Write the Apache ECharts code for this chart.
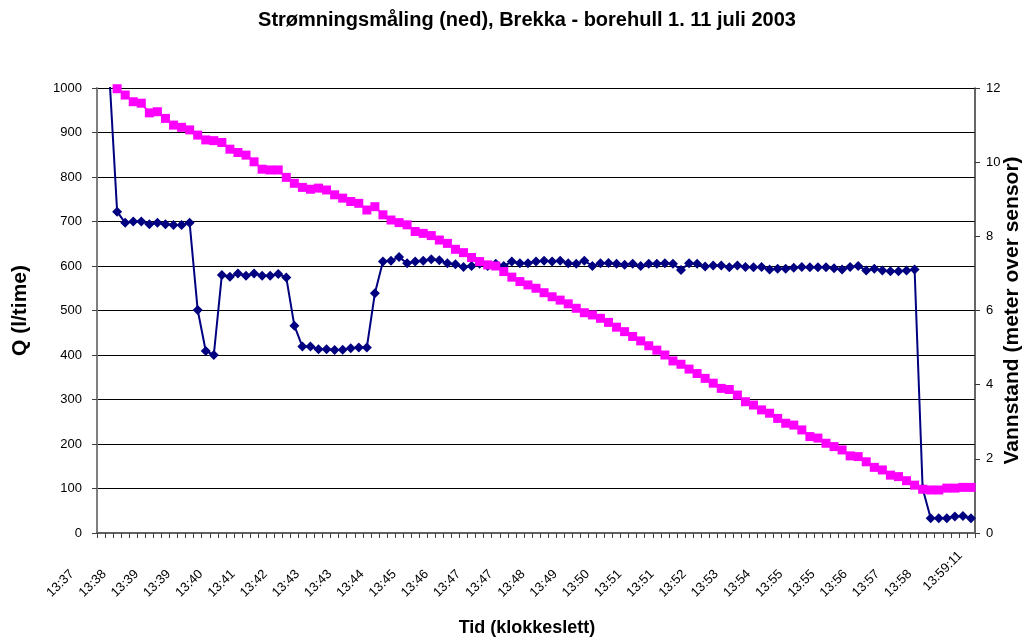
<!DOCTYPE html>
<html>
<head>
<meta charset="utf-8">
<title>Strømningsmåling (ned), Brekka - borehull 1</title>
<script src="https://cdn.jsdelivr.net/npm/echarts@6.0.0/dist/echarts.min.js"></script>
<style>
  html, body { margin: 0; padding: 0; background: #ffffff; }
  #chart { width: 1031px; height: 641px; }
</style>
</head>
<body>
<div id="chart"></div>
<script>
// Sampling times (every 12 s), 11 July 2003
const times = [
  '13:37:35','13:37:47','13:37:59','13:38:11','13:38:23','13:38:35','13:38:47','13:38:59',
  '13:39:11','13:39:23','13:39:35','13:39:47','13:39:59','13:40:11','13:40:23','13:40:35',
  '13:40:47','13:40:59','13:41:11','13:41:23','13:41:35','13:41:47','13:41:59','13:42:11',
  '13:42:23','13:42:35','13:42:47','13:42:59','13:43:11','13:43:23','13:43:35','13:43:47',
  '13:43:59','13:44:11','13:44:23','13:44:35','13:44:47','13:44:59','13:45:11','13:45:23',
  '13:45:35','13:45:47','13:45:59','13:46:11','13:46:23','13:46:35','13:46:47','13:46:59',
  '13:47:11','13:47:23','13:47:35','13:47:47','13:47:59','13:48:11','13:48:23','13:48:35',
  '13:48:47','13:48:59','13:49:11','13:49:23','13:49:35','13:49:47','13:49:59','13:50:11',
  '13:50:23','13:50:35','13:50:47','13:50:59','13:51:11','13:51:23','13:51:35','13:51:47',
  '13:51:59','13:52:11','13:52:23','13:52:35','13:52:47','13:52:59','13:53:11','13:53:23',
  '13:53:35','13:53:47','13:53:59','13:54:11','13:54:23','13:54:35','13:54:47','13:54:59',
  '13:55:11','13:55:23','13:55:35','13:55:47','13:55:59','13:56:11','13:56:23','13:56:35',
  '13:56:47','13:56:59','13:57:11','13:57:23','13:57:35','13:57:47','13:57:59','13:58:11',
  '13:58:23','13:58:35','13:58:47','13:58:59','13:59:11'
];

// Flow Q (l/time), left axis
const flow = [
  1060, 1040, 722, 697, 700, 700, 694, 697, 694, 692, 692, 697,
  501, 409, 400, 580, 576, 583, 578, 583, 578, 578, 582, 574,
  466, 419, 419, 413, 413, 411, 412, 415, 417, 417, 539, 610,
  612, 620, 606, 610, 612, 615, 613, 606, 604, 598, 600, 605,
  600, 605, 600, 610, 606, 606, 610, 612, 610, 612, 606, 605,
  612, 600, 606, 607, 605, 603, 605, 600, 605, 605, 606, 605,
  591, 606, 605, 599, 601, 601, 597, 601, 598, 597, 598, 592,
  594, 594, 596, 598, 597, 597, 597, 595, 592, 598, 600, 590,
  594, 590, 588, 588, 590, 592, 100, 33, 33, 33, 37, 38, 33
];

// Water level above sensor (m), right axis
const level = [
  12.40, 12.10, 11.98, 11.81, 11.63, 11.59, 11.33, 11.36, 11.18, 11.00, 10.94, 10.87,
  10.73, 10.60, 10.58, 10.53, 10.35, 10.26, 10.19, 10.01, 9.81, 9.79, 9.79, 9.59,
  9.43, 9.32, 9.27, 9.30, 9.25, 9.12, 9.03, 8.94, 8.89, 8.71, 8.80, 8.58,
  8.44, 8.37, 8.31, 8.13, 8.08, 8.02, 7.90, 7.81, 7.65, 7.56, 7.43, 7.32,
  7.23, 7.20, 7.05, 6.90, 6.78, 6.69, 6.60, 6.48, 6.37, 6.28, 6.18, 6.06,
  5.94, 5.88, 5.79, 5.68, 5.55, 5.43, 5.30, 5.18, 5.05, 4.93, 4.80, 4.64,
  4.55, 4.42, 4.30, 4.17, 4.04, 3.90, 3.87, 3.72, 3.54, 3.45, 3.32, 3.23,
  3.09, 2.96, 2.91, 2.78, 2.60, 2.56, 2.42, 2.33, 2.24, 2.08, 2.06, 1.92,
  1.77, 1.70, 1.56, 1.52, 1.41, 1.29, 1.18, 1.16, 1.16, 1.21, 1.21, 1.23, 1.23
];

const FONT = '"Liberation Sans", Arial, Helvetica, sans-serif';
const lastIndex = times.length - 1;

const chart = echarts.init(document.getElementById('chart'), null, { renderer: 'canvas' });

chart.setOption({
  animation: false,
  backgroundColor: '#ffffff',
  title: {
    text: 'Strømningsmåling (ned), Brekka - borehull 1. 11 juli 2003',
    left: 527,
    top: 10,
    padding: 0,
    textAlign: 'center',
    textStyle: { fontFamily: FONT, fontSize: 20, fontWeight: 'bold', color: '#000' }
  },
  grid: { left: 97, right: 56, top: 88, bottom: 108, containLabel: false, outerBoundsMode: 'none' },
  xAxis: {
    type: 'category',
    data: times,
    boundaryGap: true,
    name: 'Tid (klokkeslett)',
    nameLocation: 'middle',
    nameGap: 86,
    nameMoveOverlap: false,
    nameTextStyle: { fontFamily: FONT, fontSize: 18, fontWeight: 'bold', color: '#000', padding: [0, 18, 0, 0] },
    axisLine: { show: true, lineStyle: { color: '#606060', width: 2 } },
    axisTick: { show: true, interval: 0, inside: false, length: 5, lineStyle: { color: '#404040', width: 1 } },
    axisLabel: {
      interval: 3,
      rotate: 45,
      margin: 10,
      fontFamily: FONT,
      fontSize: 13,
      color: '#000',
      formatter: function (value, index) {
        return index === lastIndex ? '{full|' + value + '}' : '{short|' + value.slice(0, 5) + '}';
      },
      rich: {
        full: { fontFamily: FONT, fontSize: 13, color: '#000', padding: [0, 15, 0, 0] },
        short: { fontFamily: FONT, fontSize: 13, color: '#000', padding: [0, 41, 0, 0] }
      }
    },
    splitLine: { show: false }
  },
  yAxis: [
    {
      type: 'value',
      min: 0,
      max: 1000,
      interval: 100,
      position: 'left',
      name: 'Q (l/time)',
      nameLocation: 'middle',
      nameGap: 66,
      nameMoveOverlap: false,
      nameTextStyle: { fontFamily: FONT, fontSize: 21, fontWeight: 'bold', color: '#000' },
      axisLine: { show: true, lineStyle: { color: '#7f7f7f', width: 2 } },
      axisTick: { show: true, inside: false, length: 5, lineStyle: { color: '#404040' } },
      axisLabel: { margin: 15, fontFamily: FONT, fontSize: 13, color: '#000', formatter: function (v) { return String(v); } },
      splitLine: { show: true, lineStyle: { color: '#000', width: 1 } }
    },
    {
      type: 'value',
      min: 0,
      max: 12,
      interval: 2,
      position: 'right',
      name: 'Vannstand (meter over sensor)',
      nameLocation: 'middle',
      nameGap: 27,
      nameMoveOverlap: false,
      nameTextStyle: { fontFamily: FONT, fontSize: 21, fontWeight: 'bold', color: '#000' },
      axisLine: { show: true, lineStyle: { color: '#333', width: 1.5 } },
      axisTick: { show: true, inside: false, length: 5, lineStyle: { color: '#333' } },
      axisLabel: { margin: 11, fontFamily: FONT, fontSize: 13, color: '#000' },
      splitLine: { show: false }
    }
  ],
  series: [
    {
      name: 'Q',
      type: 'line',
      yAxisIndex: 0,
      data: flow,
      clip: true,
      symbol: 'diamond',
      symbolSize: 10,
      showAllSymbol: true,
      lineStyle: { color: '#000080', width: 2 },
      itemStyle: { color: '#000080' },
      z: 2
    },
    {
      name: 'Vannstand',
      type: 'line',
      yAxisIndex: 1,
      data: level,
      clip: true,
      symbol: 'rect',
      symbolSize: 9,
      showAllSymbol: true,
      lineStyle: { color: '#FF00FF', width: 2 },
      itemStyle: { color: '#FF00FF' },
      z: 3
    }
  ]
});
</script>
</body>
</html>
